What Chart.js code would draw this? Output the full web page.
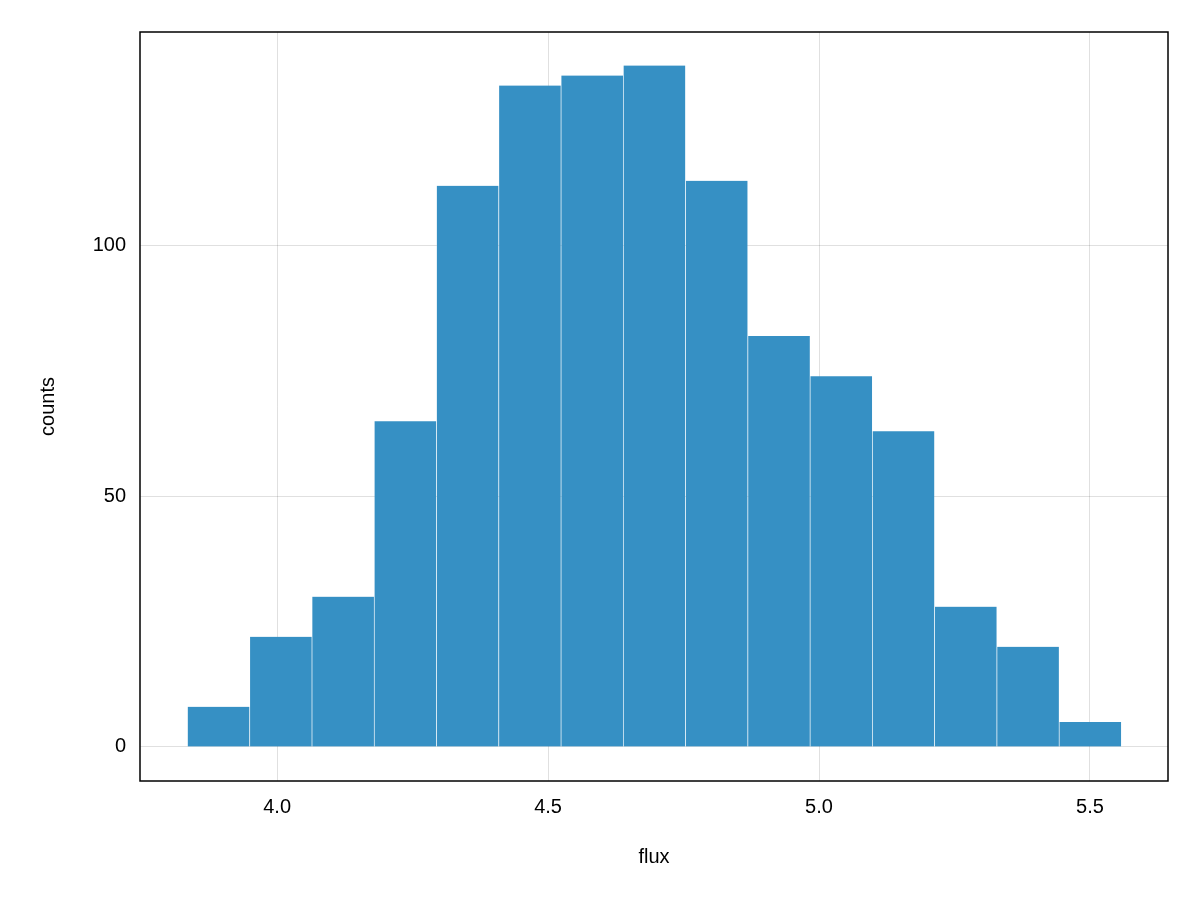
<!DOCTYPE html>
<html>
<head>
<meta charset="utf-8">
<script src="https://cdn.jsdelivr.net/npm/chart.js@4"></script>
<style>
  body { margin: 0; background: #fff; }
</style>
</head>
<body>
<canvas id="c" width="1200" height="900"></canvas>
<script>
// histogram bin edges and counts
const binStart = 3.834
const binWidth = 0.1149
const counts = [8, 22, 30, 65, 112, 132, 134, 136, 113, 82, 74, 63, 28, 20, 5]
const xTicks = [4.0, 4.5, 5.0, 5.5]
const yTicks = [0, 50, 100]

const points = counts.map((v, i) => ({ x: binStart + binWidth * (i + 0.5), y: v }))

const frame = {
    id: 'frame',
    afterDraw(chart) {
        const { ctx, chartArea: a } = chart
        ctx.save()
        ctx.strokeStyle = '#000'
        ctx.lineWidth = 1.5
        ctx.strokeRect(a.left, a.top, a.right - a.left, a.bottom - a.top)
        ctx.restore()
    }
}

Chart.defaults.font.family = "'Liberation Sans', Arial, sans-serif"
Chart.defaults.font.size = 20
Chart.defaults.color = '#000'

new Chart(document.getElementById('c'), {
    type: 'bar',
    data: {
        datasets: [{
            data: points,
            backgroundColor: 'rgb(54,144,196)',
            borderColor: 'rgba(255,255,255,0.1)',
            borderWidth: { left: 1, right: 0, top: 0, bottom: 0 },
            barPercentage: 1,
            categoryPercentage: 1
        }]
    },
    options: {
        responsive: false,
        animation: false,
        layout: { padding: { top: 32, right: 32, left: 0, bottom: 0 } },
        plugins: { legend: { display: false }, tooltip: { enabled: false } },
        scales: {
            x: {
                type: 'linear',
                offset: false,
                min: 3.747,
                max: 5.644,
                afterBuildTicks: s => { s.ticks = xTicks.map(v => ({ value: v })) },
                afterFit: s => { s.height = 119 },
                grid: { color: 'rgba(0,0,0,0.12)', drawTicks: false, offset: false },
                border: { display: false },
                ticks: { padding: 14, callback: v => v.toFixed(1) },
                title: { display: true, text: 'flux', padding: { top: 10, bottom: 31 } }
            },
            y: {
                min: -6.8,
                max: 142.7,
                afterBuildTicks: s => { s.ticks = yTicks.map(v => ({ value: v })) },
                afterFit: s => { s.width = 140 },
                grid: { color: 'rgba(0,0,0,0.12)', drawTicks: false },
                border: { display: false },
                ticks: { padding: 14 },
                title: { display: true, text: 'counts', padding: { top: 36, bottom: 10 } }
            }
        }
    },
    plugins: [frame]
})
</script>
</body>
</html>
